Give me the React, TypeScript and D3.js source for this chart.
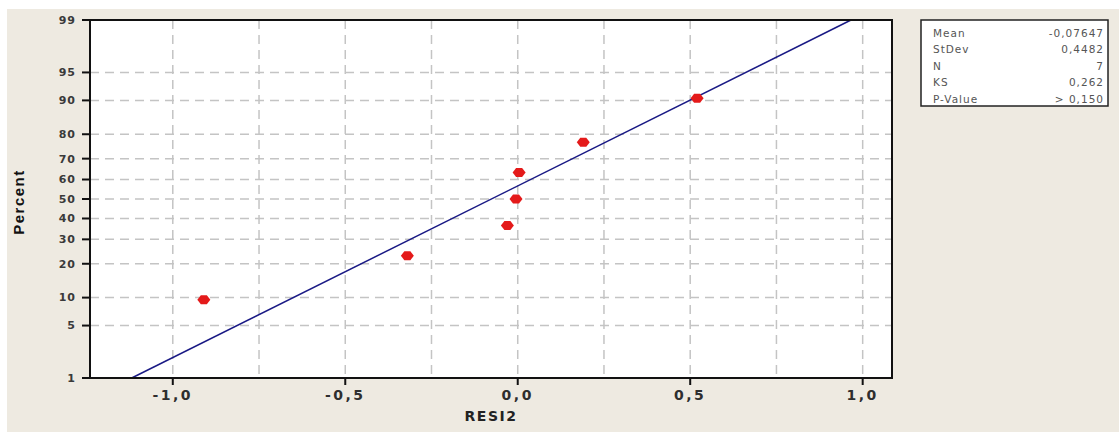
import React from 'react';
import * as d3 from 'd3';

// residuals, with their plotted percent positions
const residuals = [-0.91, -0.32, -0.03, -0.005, 0.004, 0.19, 0.52];
const percents = [9.5, 23.0, 36.5, 50.0, 63.5, 77.0, 90.5];

const yTicks = [1, 5, 10, 20, 30, 40, 50, 60, 70, 80, 90, 95, 99];
const xTicks = [-1.0, -0.5, 0.0, 0.5, 1.0];
const xGrid = [-1.0, -0.75, -0.5, -0.25, 0.0, 0.25, 0.5, 0.75, 1.0];

const statLabels = ['Mean', 'StDev', 'N', 'KS', 'P-Value'];
const statValues = ['-0,07647', '0,4482', '7', '0,262', '> 0,150'];

const fitMean = -0.07647;
const fitSd = 0.4482;

// inverse normal cdf (Acklam)
const probit = (p: number) => {
    const a = [-39.69683028665376, 220.9460984245205, -275.9285104469687, 138.357751867269, -30.66479806614716, 2.506628277459239];
    const b = [-54.47609879822406, 161.5858368580409, -155.6989798598866, 66.80131188771972, -13.28068155288572];
    const c = [-0.007784894002430293, -0.3223964580411365, -2.400758277161838, -2.549671348850319, 4.374664141464968, 2.938163982698783];
    const d = [0.007784695709041462, 0.3224671290700398, 2.445134137142996, 3.754408661907416];
    const pl = 0.02425;
    if (p < pl) {
        const q = Math.sqrt(-2 * Math.log(p));
        return (((((c[0] * q + c[1]) * q + c[2]) * q + c[3]) * q + c[4]) * q + c[5]) / ((((d[0] * q + d[1]) * q + d[2]) * q + d[3]) * q + 1);
    }
    if (p > 1 - pl) {
        const q = Math.sqrt(-2 * Math.log(1 - p));
        return -(((((c[0] * q + c[1]) * q + c[2]) * q + c[3]) * q + c[4]) * q + c[5]) / ((((d[0] * q + d[1]) * q + d[2]) * q + d[3]) * q + 1);
    }
    const q = p - 0.5;
    const r = q * q;
    return (((((a[0] * r + a[1]) * r + a[2]) * r + a[3]) * r + a[4]) * r + a[5]) * q / (((((b[0] * r + b[1]) * r + b[2]) * r + b[3]) * r + b[4]) * r + 1);
};

const W = 1119;
const H = 432;
const plot = { left: 90, right: 892, top: 20, bottom: 378 };

const x = d3.scaleLinear().domain([-1.24, 1.085]).range([plot.left, plot.right]);
const y = d3.scaleLinear()
    .domain([probit(0.01), probit(0.99)])
    .range([plot.bottom, plot.top]);

const fmtX = (v: number) => v.toFixed(1).replace('.', ',');

const marker = (() => {
    const p = d3.path();
    p.moveTo(-6.5, 0);
    p.lineTo(-3, -4.5);
    p.lineTo(3, -4.5);
    p.lineTo(6.5, 0);
    p.lineTo(3, 4.5);
    p.lineTo(-3, 4.5);
    p.closePath();
    return p.toString();
})();

const App = () => {
    const zLo = probit(0.01);
    const zHi = probit(0.99);
    const fitLine = d3.line<number>()
        .x(z => x(fitMean + fitSd * z))
        .y(z => y(z))([zLo, zHi]);

    const tickFont = 'Verdana, "DejaVu Sans", sans-serif';

    return (
        <svg width={W} height={H} style={{ position: 'absolute', left: 0, top: 0, display: 'block' }}>
            <rect x={0} y={0} width={W} height={H} fill="#ffffff" />
            <rect x={7} y={9} width={W - 7} height={H - 9} fill="#eeeae1" />
            <rect x={plot.left} y={plot.top} width={plot.right - plot.left} height={plot.bottom - plot.top} fill="#ffffff" />

            {/* grid */}
            <g stroke="#c4c4c4" strokeWidth={1.5} strokeDasharray="9,6">
                {yTicks.map(t => (
                    <line key={'h' + t} x1={plot.left} x2={plot.right} y1={y(probit(t / 100))} y2={y(probit(t / 100))} />
                ))}
                {xGrid.map(t => (
                    <line key={'v' + t} x1={x(t)} x2={x(t)} y1={plot.top} y2={plot.bottom} />
                ))}
            </g>

            {/* fitted line */}
            <path d={fitLine ?? ''} fill="none" stroke="#1a1a85" strokeWidth={1.5} />

            {/* points */}
            {residuals.map((r, i) => (
                <path key={i} d={marker} transform={`translate(${x(r)},${y(probit(percents[i] / 100))})`} fill="#e41a1a" />
            ))}

            {/* frame */}
            <rect x={plot.left} y={plot.top} width={plot.right - plot.left} height={plot.bottom - plot.top}
                  fill="none" stroke="#111" strokeWidth={2} />

            {/* y axis */}
            <g fontFamily={tickFont} fontSize={11} fontWeight="bold" fill="#3a3a3a" textAnchor="end">
                {yTicks.map(t => (
                    <g key={'yt' + t} transform={`translate(0,${y(probit(t / 100))})`}>
                        <line x1={82} x2={plot.left} stroke="#111" strokeWidth={2} />
                        <text x={76} dy="0.35em" letterSpacing={1}>{t}</text>
                    </g>
                ))}
            </g>

            {/* x axis */}
            <g fontFamily={tickFont} fontSize={14} fontWeight="bold" fill="#2e2e2e" textAnchor="middle">
                {xTicks.map(t => (
                    <g key={'xt' + t} transform={`translate(${x(t)},0)`}>
                        <line y1={plot.bottom} y2={plot.bottom + 7} stroke="#111" strokeWidth={2} />
                        <text y={400} letterSpacing={2.5}>{fmtX(t)}</text>
                    </g>
                ))}
            </g>

            <text x={(plot.left + plot.right) / 2} y={421} textAnchor="middle"
                  fontFamily={tickFont} fontSize={14} fontWeight="bold" fill="#222" letterSpacing={1.5}>RESI2</text>
            <text transform="translate(24,202) rotate(-90)" textAnchor="middle"
                  fontFamily='"Liberation Sans Narrow", "Liberation Sans", sans-serif' fontSize={15} fontWeight="bold"
                  fill="#111" letterSpacing={1.5}>Percent</text>

            {/* stats box */}
            <rect x={921} y={20} width={187} height={86} fill="#ffffff" stroke="#222" strokeWidth={1.5} />
            <g fontFamily={tickFont} fontSize={10.5} fill="#555" letterSpacing={1}>
                {statLabels.map((s, i) => (
                    <g key={s}>
                        <text x={933} y={36.5 + i * 16.5}>{s}</text>
                        <text x={1104} y={36.5 + i * 16.5} textAnchor="end">{statValues[i]}</text>
                    </g>
                ))}
            </g>
        </svg>
    );
};

export default App;
